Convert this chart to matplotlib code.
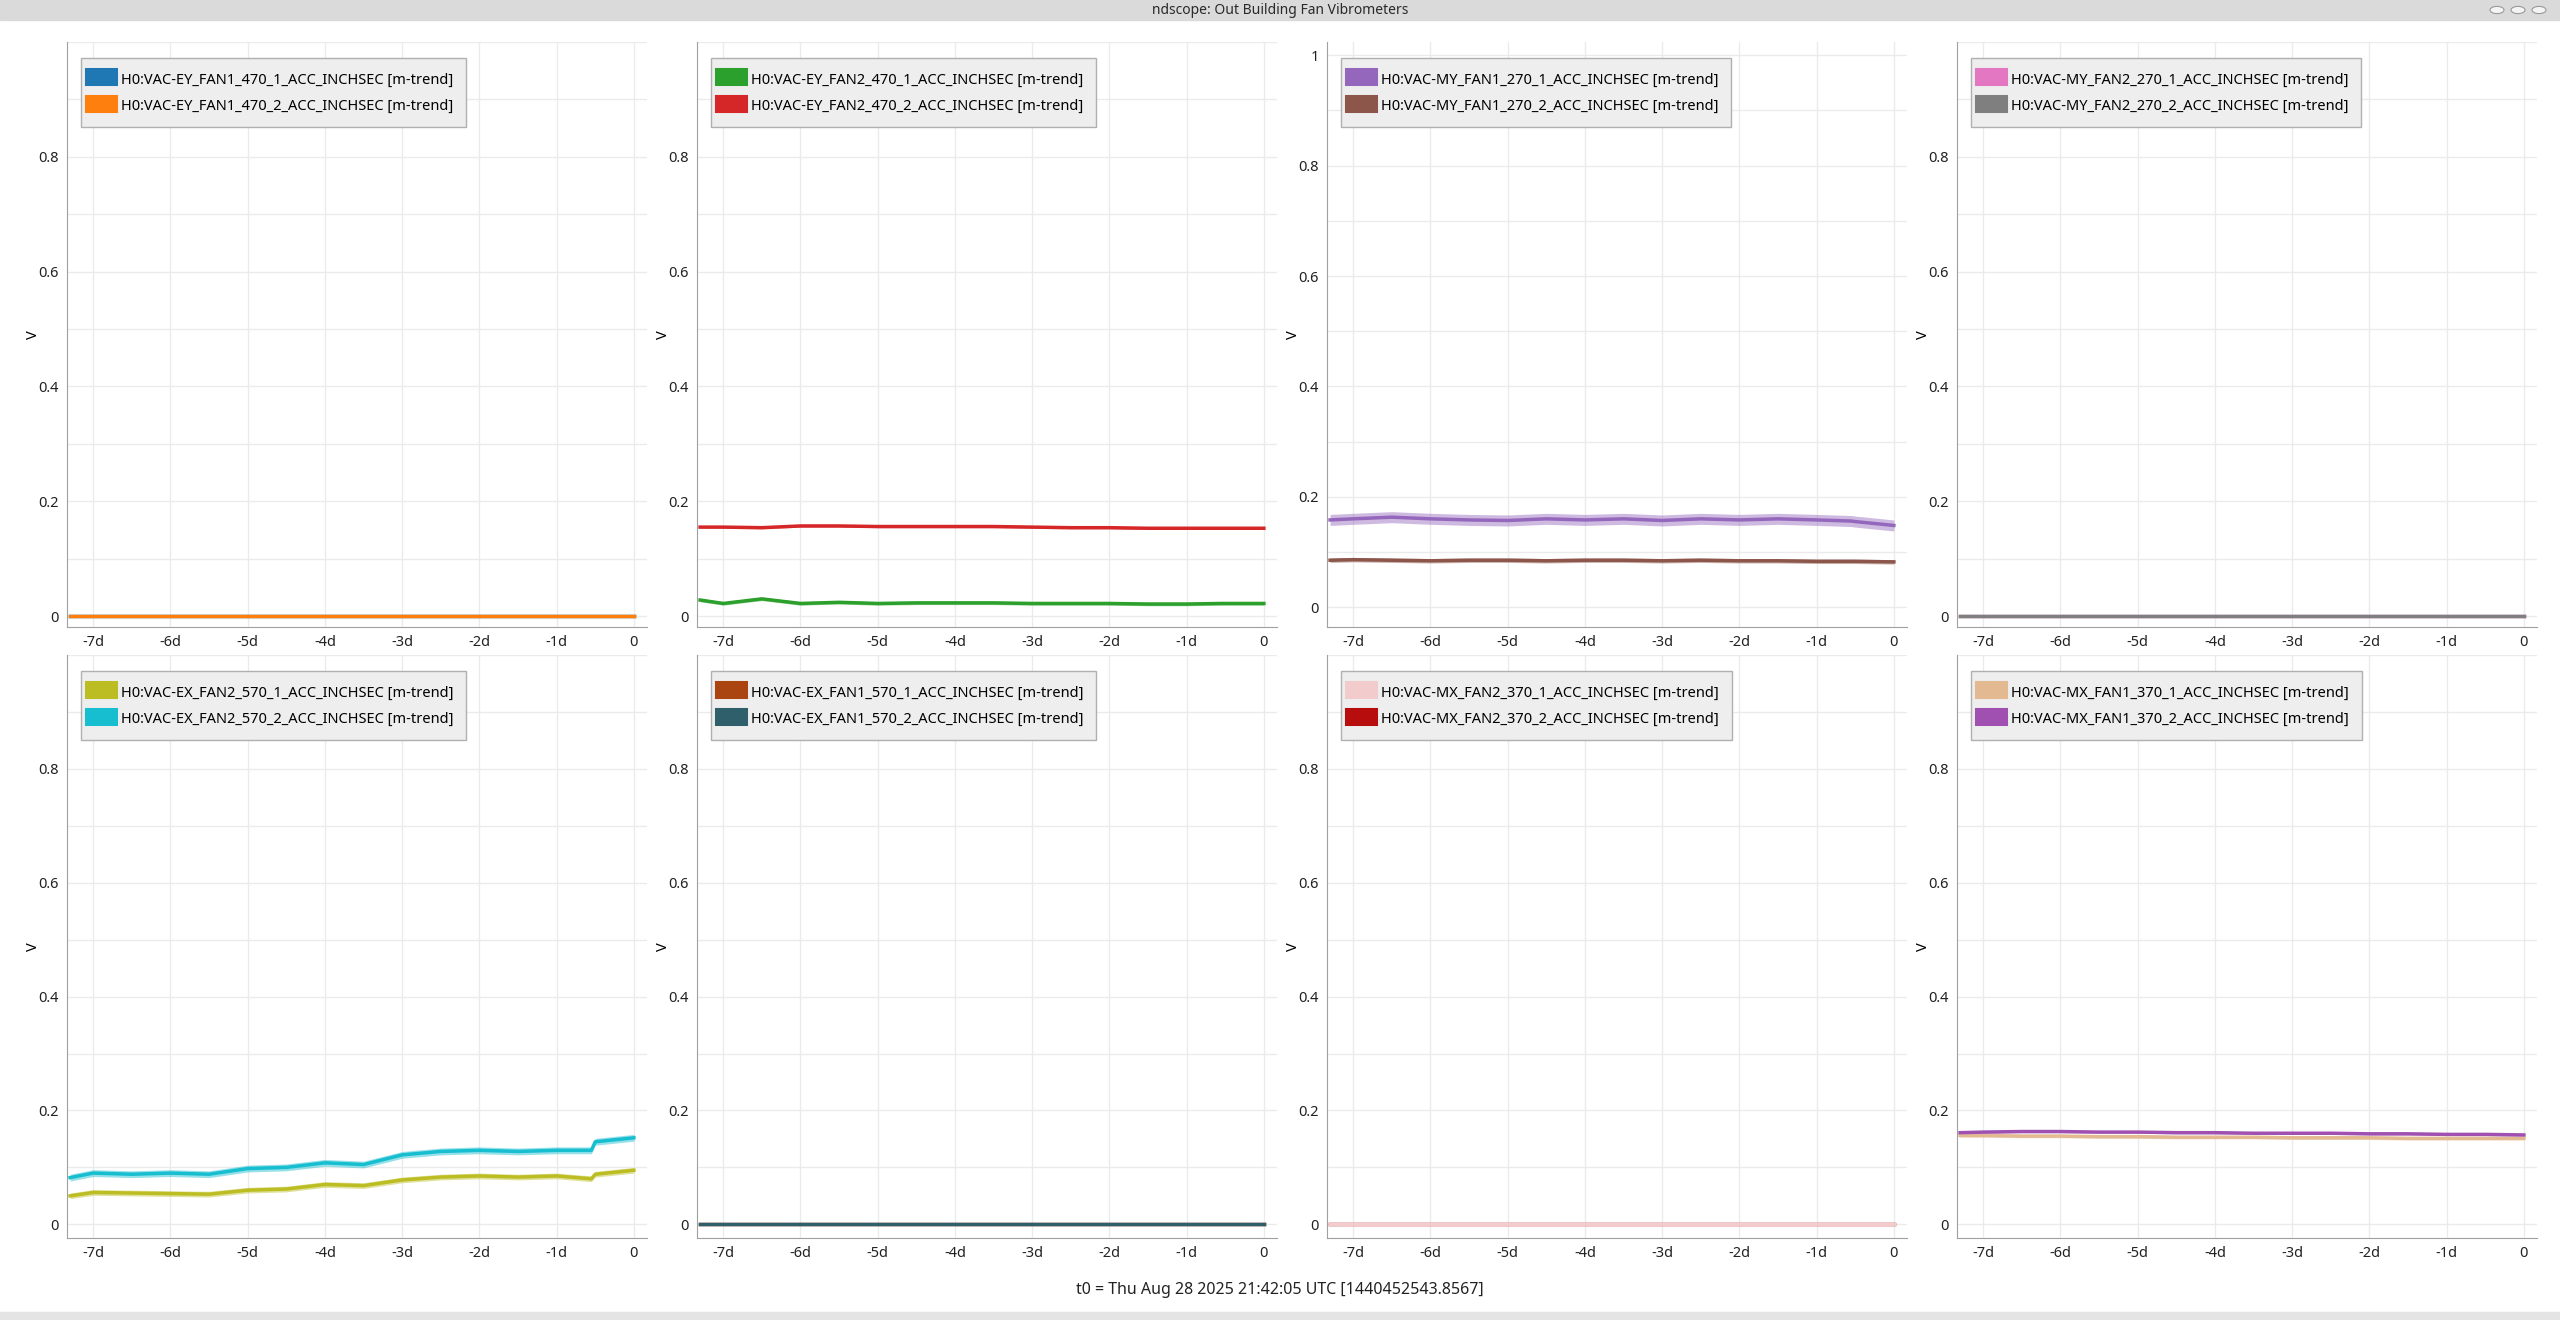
"""ndscope style 2x4 trend grid: out building fan vibrometers."""

import matplotlib
matplotlib.use("Agg")
import matplotlib.pyplot as plt
from matplotlib.patches import Rectangle, Circle

plt.rcParams["font.family"] = ["Noto Sans", "DejaVu Sans"]

# time axis in days relative to t0
days = [-7.3, -7.0, -6.5, -6.0, -5.5, -5.0, -4.5, -4.0, -3.5, -3.0, -2.5, -2.0, -1.5, -1.0, -0.55, -0.5, 0.0]

zero = [0.0] * len(days)
ey2_1 = [0.028, 0.022, 0.030, 0.022, 0.024, 0.022, 0.023, 0.023, 0.023, 0.022, 0.022, 0.022, 0.021, 0.021, 0.022, 0.022, 0.022]
ey2_2 = [0.155, 0.155, 0.154, 0.157, 0.157, 0.156, 0.156, 0.156, 0.156, 0.155, 0.154, 0.154, 0.153, 0.153, 0.153, 0.153, 0.153]
my1_1 = [0.158, 0.160, 0.163, 0.160, 0.158, 0.157, 0.160, 0.158, 0.160, 0.157, 0.160, 0.158, 0.160, 0.158, 0.156, 0.155, 0.148]
my1_2 = [0.085, 0.086, 0.085, 0.084, 0.085, 0.085, 0.084, 0.085, 0.085, 0.084, 0.085, 0.084, 0.084, 0.083, 0.083, 0.083, 0.082]
ex2_1 = [0.050, 0.056, 0.055, 0.054, 0.053, 0.060, 0.062, 0.070, 0.068, 0.078, 0.083, 0.085, 0.083, 0.085, 0.080, 0.088, 0.095]
ex2_2 = [0.082, 0.090, 0.088, 0.090, 0.088, 0.098, 0.100, 0.108, 0.105, 0.122, 0.128, 0.130, 0.128, 0.130, 0.130, 0.145, 0.152]
mx1_1 = [0.156, 0.156, 0.155, 0.155, 0.154, 0.154, 0.153, 0.153, 0.153, 0.152, 0.152, 0.152, 0.151, 0.151, 0.151, 0.151, 0.151]
mx1_2 = [0.161, 0.162, 0.163, 0.163, 0.162, 0.162, 0.161, 0.161, 0.160, 0.160, 0.160, 0.159, 0.159, 0.158, 0.158, 0.158, 0.157]

# half width of the min/max band per series
band = {"ey2_1": 0.003, "ey2_2": 0.002, "my1_1": 0.010, "my1_2": 0.004,
        "ex2_1": 0.005, "ex2_2": 0.006, "mx1_1": 0.003, "mx1_2": 0.002}

panels = [
    [("H0:VAC-EY_FAN1_470_1_ACC_INCHSEC [m-trend]", "#1f77b4", zero, 0.0),
     ("H0:VAC-EY_FAN1_470_2_ACC_INCHSEC [m-trend]", "#ff7f0e", zero, 0.0)],
    [("H0:VAC-EY_FAN2_470_1_ACC_INCHSEC [m-trend]", "#2ca02c", ey2_1, band["ey2_1"]),
     ("H0:VAC-EY_FAN2_470_2_ACC_INCHSEC [m-trend]", "#d62728", ey2_2, band["ey2_2"])],
    [("H0:VAC-MY_FAN1_270_1_ACC_INCHSEC [m-trend]", "#9467bd", my1_1, band["my1_1"]),
     ("H0:VAC-MY_FAN1_270_2_ACC_INCHSEC [m-trend]", "#8c564b", my1_2, band["my1_2"])],
    [("H0:VAC-MY_FAN2_270_1_ACC_INCHSEC [m-trend]", "#e377c2", zero, 0.0),
     ("H0:VAC-MY_FAN2_270_2_ACC_INCHSEC [m-trend]", "#7f7f7f", zero, 0.0)],
    [("H0:VAC-EX_FAN2_570_1_ACC_INCHSEC [m-trend]", "#bcbd22", ex2_1, band["ex2_1"]),
     ("H0:VAC-EX_FAN2_570_2_ACC_INCHSEC [m-trend]", "#17becf", ex2_2, band["ex2_2"])],
    [("H0:VAC-EX_FAN1_570_1_ACC_INCHSEC [m-trend]", "#aa4410", zero, 0.0),
     ("H0:VAC-EX_FAN1_570_2_ACC_INCHSEC [m-trend]", "#2f5f6a", zero, 0.0)],
    [("H0:VAC-MX_FAN2_370_1_ACC_INCHSEC [m-trend]", "#f2cccc", zero, 0.0),
     ("H0:VAC-MX_FAN2_370_2_ACC_INCHSEC [m-trend]", "#b80d0d", zero, 0.0)],
    [("H0:VAC-MX_FAN1_370_1_ACC_INCHSEC [m-trend]", "#e2b990", mx1_1, band["mx1_1"]),
     ("H0:VAC-MX_FAN1_370_2_ACC_INCHSEC [m-trend]", "#a050b0", mx1_2, band["mx1_2"])],
]

xticks = [-7, -6, -5, -4, -3, -2, -1, 0]
xlabels = ["-7d", "-6d", "-5d", "-4d", "-3d", "-2d", "-1d", "0"]

W, H = 2560, 1320
fig = plt.figure(figsize=(W / 100, H / 100), dpi=100)

# window title bar
fig.patches.append(Rectangle((0, 1 - 20 / H), 1, 20 / H, transform=fig.transFigure,
                             color="#dadada", zorder=0))
fig.text(0.5, 1 - 10 / H, "ndscope: Out Building Fan Vibrometers", ha="center", va="center",
         fontsize=10, fontweight="bold", color="#2a2a2a")
for cx in (2497, 2518, 2539):
    fig.patches.append(Circle((cx / W, 1 - 10 / H), 7 / W, transform=fig.transFigure,
                              facecolor="#f4f4f4", edgecolor="#999999", lw=0.8))
fig.patches.append(Rectangle((0, 0), 1, 8 / H, transform=fig.transFigure, color="#e4e4e4"))

lefts = [67, 697, 1327, 1957]
pw = 580
rows = [(42, 627), (655, 1238)]
ylims = [(-0.019, 1.0), (-0.019, 1.0), (-0.036, 1.024), (-0.019, 1.0),
         (-0.024, 0.993), (-0.024, 0.993), (-0.024, 0.993), (-0.024, 0.993)]

for i, series in enumerate(panels):
    r, c = divmod(i, 4)
    top, bot = rows[r]
    ax = fig.add_axes([lefts[c] / W, 1 - bot / H, pw / W, (bot - top) / H])
    order = list(range(len(series)))
    if i == 6:
        order = order[::-1]  # light pink trace drawn on top here
    for k in order:
        label, color, vals, hw = series[k]
        lo = [v - hw for v in vals]
        hi = [v + hw for v in vals]
        if hw > 0:
            ax.fill_between(days, lo, hi, color=color, alpha=0.45, lw=0)
        ax.plot(days, vals, color=color, lw=2.5, label=label, zorder=2 + k if i != 6 else 3 - k)
    ax.set_xlim(-7.34, 0.17)
    ax.set_ylim(*ylims[i])
    ax.set_xticks(xticks, xlabels)
    top_lbl = "1" if i == 2 else ""
    ax.set_yticks([0, 0.2, 0.4, 0.6, 0.8, 1.0], ["0", "0.2", "0.4", "0.6", "0.8", top_lbl])
    ax.set_yticks([0.1, 0.3, 0.5, 0.7, 0.9], minor=True)
    ax.tick_params(length=0, labelsize=10.5, colors="#222222", pad=6)
    ax.tick_params(which="minor", length=0)
    ax.grid(True, which="both", color="#ebebeb", lw=1)
    ax.set_axisbelow(True)
    for s in ("top", "right"):
        ax.spines[s].set_visible(False)
    for s in ("left", "bottom"):
        ax.spines[s].set_color("#a0a0a0")
    ax.set_ylabel("V", fontsize=10.5, labelpad=-2)
    handles, labels = ax.get_legend_handles_labels()
    pairs = sorted(zip(handles, labels), key=lambda p: p[1])
    leg = ax.legend([p[0] for p in pairs], [p[1] for p in pairs],
                    loc="upper left", bbox_to_anchor=(0.012, 0.985), fontsize=10.5,
                    handlelength=1.0, handleheight=1.2, handletextpad=0.8, framealpha=1,
                    fancybox=False, facecolor="#eeeeee", edgecolor="#b0b0b0",
                    borderpad=0.9, labelspacing=0.7)
    for h in leg.legend_handles:
        h.set_linewidth(13)

fig.text(0.5, 1 - 1290 / H, "t0 = Thu Aug 28 2025 21:42:05 UTC [1440452543.8567]",
         ha="center", va="center", fontsize=11.5, color="#222222")

fig.savefig("out.png", dpi=100, facecolor="white")
